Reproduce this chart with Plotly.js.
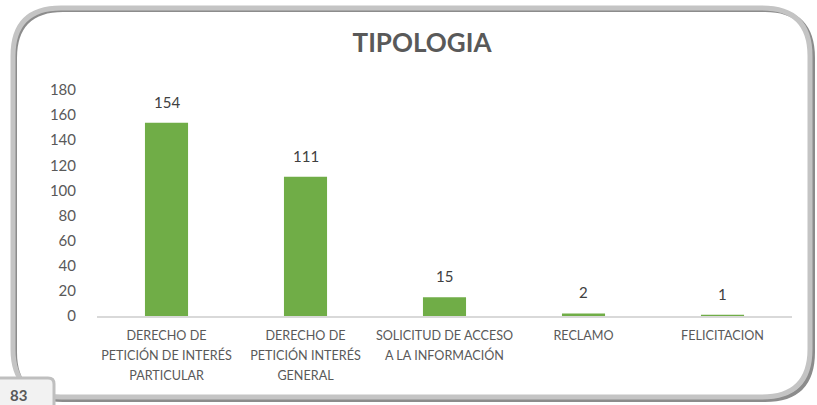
<!DOCTYPE html>
<html>
<head>
<meta charset="utf-8">
<script src="https://cdn.plot.ly/plotly-3.0.1.min.js"></script>
<style>html,body{margin:0;padding:0;background:#fff;}#chart{width:817px;height:405px;}</style>
</head>
<body>
<div id="chart"></div>
<script>
const categories = [
  "DERECHO DE<br>PETICIÓN DE INTERÉS<br>PARTICULAR",
  "DERECHO DE<br>PETICIÓN INTERÉS<br>GENERAL",
  "SOLICITUD DE ACCESO<br>A LA INFORMACIÓN",
  "RECLAMO",
  "FELICITACION"
];
const values = [154, 111, 15, 2, 1];
const yTicks = [0, 20, 40, 60, 80, 100, 120, 140, 160, 180];
const titleText = "TIPOLOGIA";
const pageLabel = "83";

const W = 817, H = 405;
const mL = 97, mR = 25, mT = 90, mB = 89;
const pw = W - mL - mR, ph = H - mT - mB;
const px = x => (x - mL) / pw;
const py = y => (H - mB - y) / ph;

function roundRect(x0, y0, x1, y1, r) {
  const P = (x, y) => px(x).toFixed(5) + "," + py(y).toFixed(5);
  return "M" + P(x0 + r, y0) + " L" + P(x1 - r, y0) +
    " Q" + P(x1, y0) + " " + P(x1, y0 + r) +
    " L" + P(x1, y1 - r) + " Q" + P(x1, y1) + " " + P(x1 - r, y1) +
    " L" + P(x0 + r, y1) + " Q" + P(x0, y1) + " " + P(x0, y1 - r) +
    " L" + P(x0, y0 + r) + " Q" + P(x0, y0) + " " + P(x0 + r, y0) + " Z";
}

const font = "Lato, 'Liberation Sans', sans-serif";

const tickText = categories.map(c => c.split("<br>")
  .map(line => '<span style="font-size:12.6px">' + line + '</span>').join("<br>"));

const trace = {
  type: "bar",
  x: categories,
  y: values,
  marker: { color: "#70ad47" },
  width: 0.31,
  hoverinfo: "skip"
};

const labelAnnotations = categories.map((c, i) => ({
  x: c, y: values[i], xref: "x", yref: "y",
  text: String(values[i]), showarrow: false,
  yanchor: "middle", yshift: 21,
  font: { family: font, size: 15, color: "#404040" }
}));

const layout = {
  width: W, height: H,
  margin: { l: mL, r: mR, t: mT, b: mB, pad: 0 },
  paper_bgcolor: "#ffffff",
  plot_bgcolor: "rgba(0,0,0,0)",
  showlegend: false,
  font: { family: font, color: "#595959" },
  title: {
    text: "<b>" + titleText + "</b>",
    font: { family: font, size: 26, color: "#595959" },
    x: px(422), xref: "paper", xanchor: "center",
    y: 1 - 43 / H, yanchor: "middle"
  },
  xaxis: {
    type: "category",
    tickvals: categories, ticktext: tickText,
    showgrid: false, zeroline: false,
    showline: true, linecolor: "#d9d9d9", linewidth: 1.5,
    ticks: "", ticklabelstandoff: 4,
    tickfont: { family: font, size: 15.4, color: "#595959" },
    fixedrange: true
  },
  yaxis: {
    range: [0, 180],
    tickvals: yTicks,
    showgrid: false, zeroline: false, showline: false,
    ticks: "", ticklabelstandoff: 20,
    tickfont: { family: font, size: 15, color: "#595959" },
    fixedrange: true
  },
  shapes: [
    { type: "path", xref: "paper", yref: "paper", layer: "below",
      path: roundRect(15, 10, 813, 400, 48),
      line: { color: "#8c8c8c", width: 4 }, fillcolor: "rgba(0,0,0,0)" },
    { type: "path", xref: "paper", yref: "paper", layer: "below",
      path: roundRect(13, 8, 810, 397, 48),
      line: { color: "#c4c4c4", width: 5 }, fillcolor: "rgba(0,0,0,0)" },
    { type: "path", xref: "paper", yref: "paper", layer: "above",
      path: roundRect(-10, 378, 54, 420, 6),
      line: { color: "#bfbfbf", width: 3 }, fillcolor: "#f2f2f2" }
  ],
  annotations: labelAnnotations.concat([
    { xref: "paper", yref: "paper", x: px(8), y: py(395), xanchor: "left", yanchor: "middle",
      text: "<b>" + pageLabel + "</b>", showarrow: false,
      font: { family: font, size: 15, color: "#595959" } }
  ])
};

Plotly.newPlot("chart", [trace], layout, { displayModeBar: false, staticPlot: true });
</script>
</body>
</html>
